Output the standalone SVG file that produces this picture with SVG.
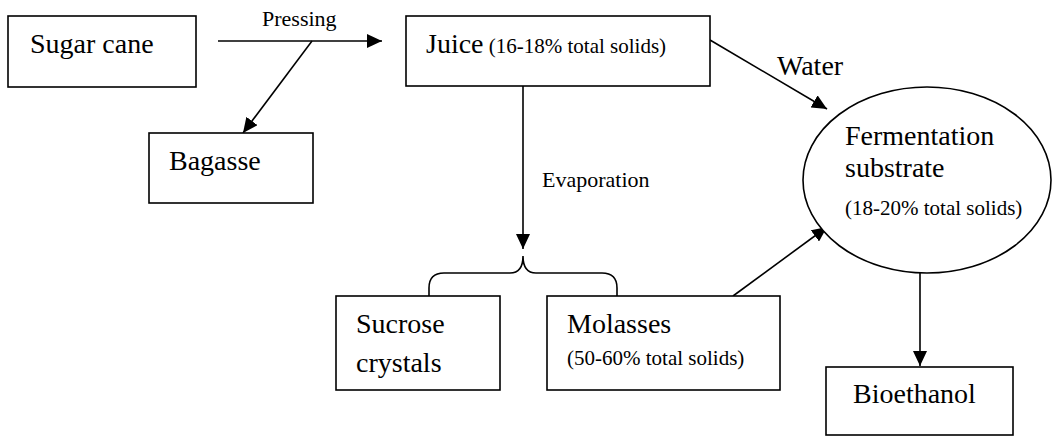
<svg xmlns="http://www.w3.org/2000/svg" width="1053" height="437" viewBox="0 0 1053 437">
<style>
.box{fill:#fff;stroke:#000;stroke-width:1.6}
.ln{fill:none;stroke:#000;stroke-width:1.6}
text{font-family:"Liberation Serif","Times New Roman",serif;fill:#000}
.big{font-size:28px}
.lbl{font-size:22px}
.sm{font-size:21px}
</style>
<defs>
<marker id="ah" markerUnits="userSpaceOnUse" markerWidth="15" markerHeight="14" refX="15" refY="7" orient="auto">
<path d="M0,0 L15,7 L0,14 z" fill="#000"/>
</marker>
</defs>
<rect width="1053" height="437" fill="#fff"/>
<g id="connectors">
<line class="ln" x1="218" y1="41" x2="382" y2="41" marker-end="url(#ah)"/>
<line class="ln" x1="312" y1="41" x2="243" y2="133" marker-end="url(#ah)"/>
<line class="ln" x1="710" y1="40" x2="827" y2="109" marker-end="url(#ah)"/>
<line class="ln" x1="523" y1="86" x2="523" y2="249" marker-end="url(#ah)"/>
<line class="ln" x1="733" y1="296" x2="827" y2="227" marker-end="url(#ah)"/>
<line class="ln" x1="920" y1="273" x2="920" y2="366" marker-end="url(#ah)"/>
<path class="ln" d="M429,296 L429,288 Q429,273 444,273 L510,273 Q523,273 523,256 Q523,273 536,273 L602,273 Q617,273 617,288 L617,296"/>
<text class="lbl" x="262" y="26">Pressing</text>
<text class="big" x="777" y="75">Water</text>
<text class="lbl" x="542" y="187">Evaporation</text>
</g>
<g id="sugarcane">
<rect class="box" x="8" y="16" width="188" height="71"/>
<text class="big" x="30" y="53">Sugar cane</text>
</g>
<g id="bagasse">
<rect class="box" x="149" y="133" width="164" height="70"/>
<text class="big" x="169" y="170">Bagasse</text>
</g>
<g id="juice">
<rect class="box" x="406" y="16" width="304" height="70"/>
<text x="426" y="53"><tspan class="big">Juice</tspan><tspan class="sm"> (16-18% total solids)</tspan></text>
</g>
<g id="fermentation">
<ellipse class="box" cx="927" cy="180" rx="124" ry="93"/>
<text class="big" x="845" y="145">Fermentation</text>
<text class="big" x="845" y="177">substrate</text>
<text class="sm" x="845" y="215">(18-20% total solids)</text>
</g>
<g id="sucrose">
<rect class="box" x="336" y="296" width="164" height="94"/>
<text class="big" x="356" y="333">Sucrose</text>
<text class="big" x="356" y="372">crystals</text>
</g>
<g id="molasses">
<rect class="box" x="547" y="296" width="233" height="94"/>
<text class="big" x="567" y="333">Molasses</text>
<text class="sm" x="567" y="365">(50-60% total solids)</text>
</g>
<g id="bioethanol">
<rect class="box" x="826" y="367" width="187" height="68"/>
<text class="big" x="853" y="403">Bioethanol</text>
</g>
</svg>
